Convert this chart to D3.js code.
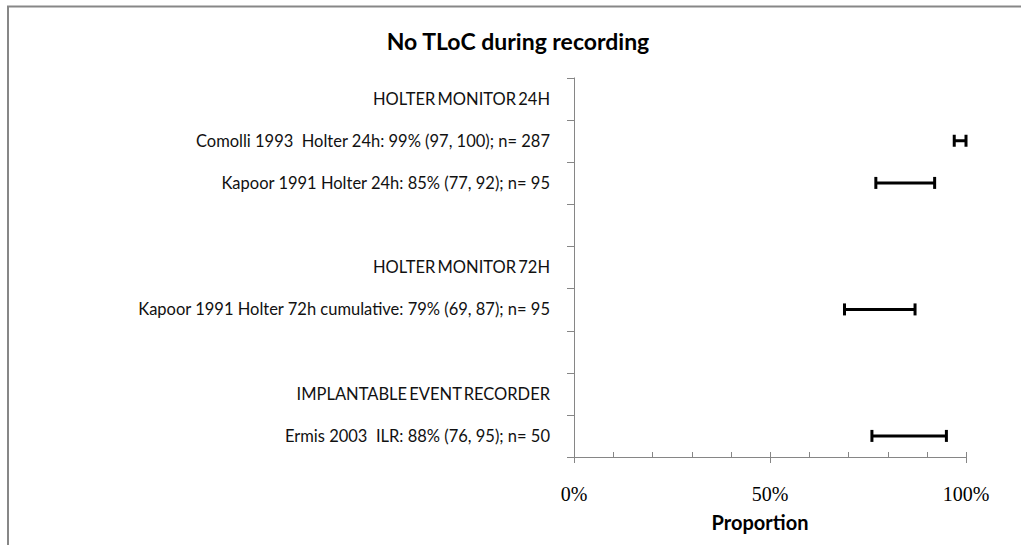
<!DOCTYPE html>
<html>
<head>
<meta charset="utf-8">
<script src="https://cdn.jsdelivr.net/npm/d3@7"></script>
<style>
  html, body { margin: 0; padding: 0; background: #fff; }
  svg { display: block; }
</style>
</head>
<body>
<svg id="chart" width="1021" height="545"></svg>
<script>
// ---- data ----
const rowLabels = [
  "HOLTER MONITOR 24H",
  "Comolli 1993  Holter 24h: 99% (97, 100); n= 287",
  "Kapoor 1991 Holter 24h: 85% (77, 92); n= 95",
  "",
  "HOLTER MONITOR 72H",
  "Kapoor 1991 Holter 72h cumulative: 79% (69, 87); n= 95",
  "",
  "IMPLANTABLE EVENT RECORDER",
  "Ermis 2003  ILR: 88% (76, 95); n= 50"
];
const isHeading = [true, false, false, false, true, false, false, true, false];
const estimates = [null, 99, 85, null, null, 79, null, null, 88];
const lowerCI   = [null, 97, 77, null, null, 69, null, null, 76];
const upperCI   = [null, 100, 92, null, null, 87, null, null, 95];
const xTickValues = [0, 50, 100];
const xTickLabels = ["0%", "50%", "100%"];
const xMinorTicks = [10, 20, 30, 40, 60, 70, 80, 90];
const chartTitle = "No TLoC during recording";
const xAxisTitle = "Proportion";

// ---- layout ----
const svg = d3.select("#chart");
const plot = { left: 574, right: 966, top: 77.5, bottom: 457 };
const sansFont = "Lato, 'Open Sans', sans-serif";
const serifFont = "'Liberation Serif', 'DejaVu Serif', serif";
const axisColor = "#868686";

// frame
svg.append("path")
  .attr("d", "M8,545 L8,6.5 L1021,6.5")
  .attr("fill", "none").attr("stroke", "#878787").attr("stroke-width", 2);

const rowIdx = d3.range(rowLabels.length);
const y = d3.scaleBand().domain(rowIdx).range([plot.top, plot.bottom]).padding(0);
const x = d3.scaleLinear().domain([0, 100]).range([plot.left, plot.right]);

// title
svg.append("text")
  .attr("x", 518).attr("y", 50)
  .attr("text-anchor", "middle")
  .attr("font-family", sansFont).attr("font-weight", "bold").attr("font-size", 23)
  .attr("fill", "#000")
  .text(chartTitle);

// y axis line and category ticks (between categories)
svg.append("line")
  .attr("x1", plot.left + 0.5).attr("x2", plot.left + 0.5)
  .attr("y1", plot.top).attr("y2", plot.bottom)
  .attr("stroke", axisColor).attr("stroke-width", 1);
const boundaries = rowIdx.map(i => y(i));
svg.selectAll("line.ytick").data(boundaries).enter().append("line")
  .attr("class", "ytick")
  .attr("x1", plot.left - 7).attr("x2", plot.left)
  .attr("y1", d => Math.round(d) + 0.5).attr("y2", d => Math.round(d) + 0.5)
  .attr("stroke", axisColor).attr("stroke-width", 1);

// x axis line
svg.append("line")
  .attr("x1", plot.left - 7).attr("x2", plot.right + 0.5)
  .attr("y1", plot.bottom + 0.5).attr("y2", plot.bottom + 0.5)
  .attr("stroke", axisColor).attr("stroke-width", 1);
// major ticks (cross)
svg.selectAll("line.xmajor").data(xTickValues).enter().append("line")
  .attr("class", "xmajor")
  .attr("x1", d => Math.round(x(d)) + 0.5).attr("x2", d => Math.round(x(d)) + 0.5)
  .attr("y1", plot.bottom - 5).attr("y2", plot.bottom + 6)
  .attr("stroke", axisColor).attr("stroke-width", 1);
// minor ticks (inside)
svg.selectAll("line.xminor").data(xMinorTicks).enter().append("line")
  .attr("class", "xminor")
  .attr("x1", d => Math.round(x(d)) + 0.5).attr("x2", d => Math.round(x(d)) + 0.5)
  .attr("y1", plot.bottom - 5).attr("y2", plot.bottom)
  .attr("stroke", axisColor).attr("stroke-width", 1);
// tick labels
svg.selectAll("text.xlabel").data(xTickValues).enter().append("text")
  .attr("class", "xlabel")
  .attr("x", d => x(d)).attr("y", 501)
  .attr("text-anchor", "middle")
  .attr("font-family", serifFont).attr("font-size", 20)
  .attr("fill", "#000")
  .text((d, i) => xTickLabels[i]);
// axis title
svg.append("text")
  .attr("x", 760).attr("y", 530)
  .attr("text-anchor", "middle")
  .attr("font-family", sansFont).attr("font-weight", "bold").attr("font-size", 20)
  .attr("fill", "#000")
  .text(xAxisTitle);

// row labels
svg.selectAll("text.rowlabel").data(rowIdx.filter(i => rowLabels[i] !== "")).enter().append("text")
  .attr("class", "rowlabel")
  .attr("x", 550).attr("y", i => y(i) + y.bandwidth() / 2 + 6)
  .attr("text-anchor", "end")
  .attr("font-family", sansFont).attr("font-size", 16.5)
  .attr("word-spacing", i => isHeading[i] ? -2 : 0)
  .attr("fill", "#111")
  .style("white-space", "pre")
  .text(i => rowLabels[i]);

// error bars
const bars = rowIdx.filter(i => lowerCI[i] !== null);
const g = svg.append("g").attr("stroke", "#000").attr("stroke-width", 3).attr("fill", "none");
bars.forEach(i => {
  const cy = y(i) + y.bandwidth() / 2;
  g.append("line").attr("x1", x(lowerCI[i])).attr("x2", x(upperCI[i])).attr("y1", cy).attr("y2", cy);
  g.append("line").attr("x1", x(lowerCI[i])).attr("x2", x(lowerCI[i])).attr("y1", cy - 6).attr("y2", cy + 6);
  g.append("line").attr("x1", x(upperCI[i])).attr("x2", x(upperCI[i])).attr("y1", cy - 6).attr("y2", cy + 6);
});
</script>
</body>
</html>
